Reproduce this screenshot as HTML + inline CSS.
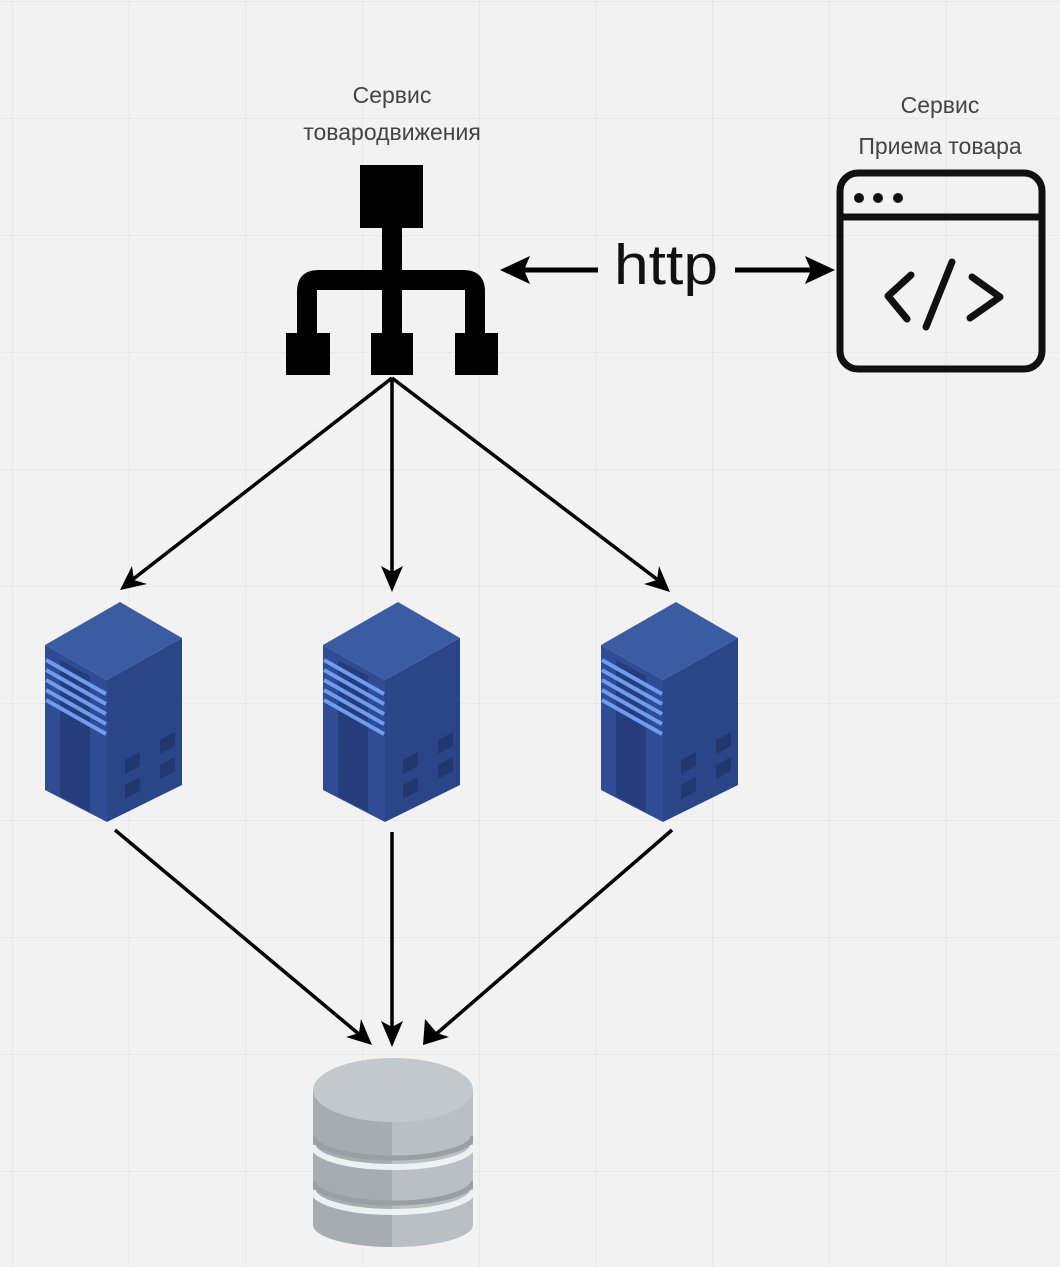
<!DOCTYPE html>
<html><head><meta charset="utf-8"><style>
html,body{margin:0;padding:0;background:#f2f2f2;}
svg{display:block}
</style></head><body>
<svg width="1060" height="1267" viewBox="0 0 1060 1267" xmlns="http://www.w3.org/2000/svg">
<defs>
<pattern id="g" x="12" y="1" width="116.7" height="117" patternUnits="userSpaceOnUse">
<path d="M0 0V117M0 0H116.7" stroke="#e4e4e4" stroke-width="1.5" fill="none"/>
</pattern>
<clipPath id="dbc"><rect x="313" y="1050" width="160" height="210"/></clipPath>
<g id="srv">
<polygon points="45,645 120,602 182,638 107,680" fill="#3b5ba2"/>
<polygon points="45,645 107,680 107,822 45,790" fill="#2f4c95"/>
<polygon points="107,680 182,638 182,785 107,822" fill="#2b4589"/>
<polygon points="60,660 90,676 90,812 60,796" fill="#263d7c"/>
<g stroke="#6f9cf0" stroke-width="4">
<line x1="46" y1="660" x2="106" y2="694"/>
<line x1="46" y1="670" x2="106" y2="704"/>
<line x1="46" y1="680" x2="106" y2="714"/>
<line x1="46" y1="690" x2="106" y2="724"/>
<line x1="46" y1="700" x2="106" y2="734"/>
</g>
<g stroke="#273f80" stroke-width="1">
<line x1="62" y1="735" x2="88" y2="749"/><line x1="62" y1="745" x2="88" y2="759"/>
<line x1="62" y1="755" x2="88" y2="769"/><line x1="62" y1="765" x2="88" y2="779"/>
</g>
<g fill="#20376f">
<polygon points="125,760 140,752 140,766 125,774"/>
<polygon points="160,740 175,732 175,746 160,754"/>
<polygon points="125,785 140,777 140,791 125,799"/>
<polygon points="160,765 175,757 175,771 160,779"/>
</g>
</g>
</defs>
<rect width="1060" height="1267" fill="#f2f2f2"/>
<rect width="1060" height="1267" fill="url(#g)"/>

<g font-family="'Liberation Sans','DejaVu Sans',sans-serif" fill="#444" font-size="23" text-anchor="middle">
<text x="392" y="103">Сервис</text>
<text x="392" y="140">товародвижения</text>
<text x="940" y="113">Сервис</text>
<text x="940" y="154">Приема товара</text>
</g>

<g fill="#000">
<rect x="360" y="165" width="63" height="63"/>
<rect x="382" y="226" width="20" height="110"/>
<path d="M297 335 V292 Q297 270 319 270 H463 Q485 270 485 292 V335 H465 V290 H317 V335 Z"/>
<rect x="286" y="333" width="44" height="42"/>
<rect x="371" y="333" width="42" height="42"/>
<rect x="455" y="333" width="43" height="42"/>
</g>

<g stroke="#000" stroke-width="5">
<line x1="520" y1="270" x2="598" y2="270"/>
<line x1="735" y1="270" x2="815" y2="270"/>
</g>
<polygon points="500,270 530,256 524,270 530,284" fill="#000"/>
<polygon points="835,270 805,256 811,270 805,284" fill="#000"/>
<text x="614" y="284" font-family="'Liberation Sans',sans-serif" font-size="57" fill="#111" textLength="104" lengthAdjust="spacingAndGlyphs">http</text>

<g fill="none" stroke="#111" stroke-width="7" stroke-linecap="round" stroke-linejoin="round">
<rect x="840" y="173" width="202" height="196" rx="18"/>
<line x1="840" y1="217" x2="1042" y2="217"/>
<polyline points="911,275 888,296 907,319"/>
<polyline points="972,277 1000,297 970,318"/>
<line x1="952" y1="262" x2="926" y2="327"/>
</g>
<g fill="#111"><circle cx="859" cy="198" r="5"/><circle cx="878" cy="198" r="5"/><circle cx="898" cy="198" r="5"/></g>

<g stroke="#000" stroke-width="3.5">
<line x1="392" y1="378" x2="132" y2="580"/>
<line x1="392" y1="378" x2="392" y2="575"/>
<line x1="392" y1="378" x2="658" y2="580"/>
<line x1="115" y1="830" x2="360" y2="1035"/>
<line x1="392" y1="832" x2="392" y2="1030"/>
<line x1="672" y1="830" x2="435" y2="1035"/>
</g>
<g fill="#000">
<polygon points="120,590 132,566 134,580 147,584"/>
<polygon points="392,592 381,566 392,572 403,566"/>
<polygon points="670,592 644,584 657,580 659,566"/>
<polygon points="372,1045 346,1037 359,1033 361,1019"/>
<polygon points="392,1047 381,1021 392,1027 403,1021"/>
<polygon points="423,1045 425,1019 437,1033 449,1037"/>
</g>

<use href="#srv"/>
<use href="#srv" x="278"/>
<use href="#srv" x="556"/>

<g clip-path="url(#dbc)">
<path d="M313 1090 V1225 A80 22 0 0 0 473 1225 V1090 Z" fill="#b9bfc4"/>
<path d="M313 1090 V1225 A80 22 0 0 0 392 1247 V1112 Z" fill="#a5adb2"/>
<path d="M313 1136 A80 22 0 0 0 473 1136" fill="none" stroke="#98a0a5" stroke-width="5"/>
<path d="M313 1181 A80 22 0 0 0 473 1181" fill="none" stroke="#98a0a5" stroke-width="5"/>
<path d="M313 1145 A80 22 0 0 0 473 1145" fill="none" stroke="#eef1f2" stroke-width="6"/>
<path d="M313 1190 A80 22 0 0 0 473 1190" fill="none" stroke="#eef1f2" stroke-width="6"/>
<ellipse cx="393" cy="1090" rx="80" ry="32" fill="#c3c8cc"/>
</g>
</svg>
</body></html>
